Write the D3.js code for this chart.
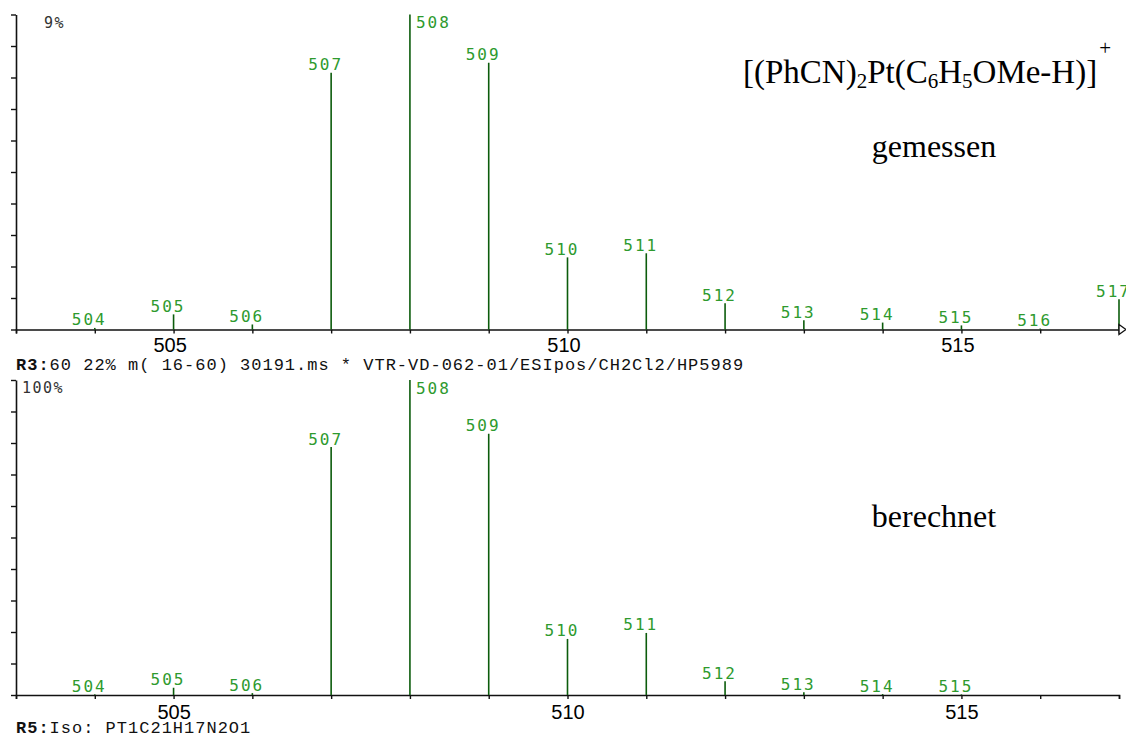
<!DOCTYPE html>
<html>
<head>
<meta charset="utf-8">
<script src="https://cdn.jsdelivr.net/npm/d3@7"></script>
<style>
  html, body { margin: 0; padding: 0; background: #fff; overflow: hidden; }
  svg { display: block; }
</style>
</head>
<body>
<svg id="chart" width="1126" height="737"></svg>
<script>
// m/z positions and relative intensities (% of base peak)
const massMeasured = [504, 505, 506, 507, 508, 509, 510, 511, 512, 513, 514, 515, 516, 517];
const intensityMeasured = [0.5, 4.8, 1.6, 81.5, 100, 84.7, 22.9, 24.2, 8.3, 2.9, 2.2, 1.3, 0.3, 9.6];

const massCalculated = [504, 505, 506, 507, 508, 509, 510, 511, 512, 513, 514, 515];
const intensityCalculated = [0.2, 2.3, 0.6, 78.7, 100, 82.9, 17.8, 19.7, 4.4, 0.9, 0.3, 0.2];

const xMajorTicks = [505, 510, 515];
const yTickValues = [0, 10, 20, 30, 40, 50, 60, 70, 80, 90, 100];

const svg = d3.select("#chart");

const x = d3.scaleLinear().domain([503, 517]).range([16, 1119]);

const peakColor = "#0c5c0c";
const labelColor = "#2e9a2e";
const axisColor = "#111";

function drawPanel(opts) {
  const y = d3.scaleLinear().domain([0, 100]).range([opts.bottom, opts.top]);
  const g = svg.append("g");

  // x axis: a tick at every nominal mass, numbers only at 505/510/515
  const xAxis = d3.axisBottom(x)
    .tickValues(d3.range(503, 518))
    .tickSize(4)
    .tickPadding(opts.xPad)
    .tickFormat(d => xMajorTicks.includes(d) ? String(d) : "");
  const gx = g.append("g")
    .attr("transform", `translate(0,${opts.bottom})`)
    .call(xAxis);
  gx.select(".domain").attr("stroke", axisColor).attr("stroke-width", 1.6);
  gx.selectAll(".tick line").attr("stroke", axisColor).attr("stroke-width", 1.4);
  gx.selectAll(".tick text")
    .attr("fill", "#000")
    .attr("font-family", "'Liberation Sans', Arial, sans-serif")
    .attr("font-size", 20)
    .attr("dx", opts.xLabelShift);

  // y axis: ten divisions, no numbers
  const yAxis = d3.axisLeft(y)
    .tickValues(yTickValues)
    .tickSize(5)
    .tickSizeOuter(0)
    .tickFormat("");
  const gy = g.append("g")
    .attr("transform", `translate(16,0)`)
    .call(yAxis);
  gy.select(".domain").attr("stroke", axisColor).attr("stroke-width", 1.6);
  gy.selectAll(".tick line").attr("stroke", axisColor).attr("stroke-width", 1.4);

  // full-scale label
  g.append("text")
    .attr("x", opts.scaleX)
    .attr("y", opts.top + 13)
    .attr("font-family", "'DejaVu Sans Mono', monospace")
    .attr("font-size", 15)
    .attr("letter-spacing", 1.5)
    .attr("fill", "#333")
    .text(opts.scaleLabel);

  const data = opts.mass.map((m, i) => ({ m, v: opts.values[i] }));

  // stick spectrum
  g.selectAll("line.peak")
    .data(data)
    .enter().append("line")
    .attr("class", "peak")
    .attr("x1", d => x(d.m))
    .attr("x2", d => x(d.m))
    .attr("y1", y(0))
    .attr("y2", d => y(d.v))
    .attr("stroke", peakColor)
    .attr("stroke-width", 1.6);

  // mass labels above each stick (beside the base peak)
  g.selectAll("text.peak-label")
    .data(data)
    .enter().append("text")
    .attr("class", "peak-label")
    .attr("x", d => d.v >= 100 ? x(d.m) + 6 : x(d.m) - 23)
    .attr("y", d => d.v >= 100 ? y(d.v) + 13.5 : y(d.v) - 2.5)
    .attr("font-family", "'DejaVu Sans Mono', monospace")
    .attr("font-size", 16)
    .attr("letter-spacing", 2)
    .attr("fill", labelColor)
    .text(d => d.m);

  return g;
}

const topPanel = drawPanel({
  top: 14.5, bottom: 329.5, xPad: 4, xLabelShift: -4,
  mass: massMeasured, values: intensityMeasured,
  scaleLabel: "9%", scaleX: 44
});

// open arrowhead at the end of the upper m/z axis
topPanel.append("path")
  .attr("d", `M${x(517)},${324.5} L${x(517) + 7},${329.5} L${x(517)},${334.5} Z`)
  .attr("fill", "#fff")
  .attr("stroke", axisColor)
  .attr("stroke-width", 1.4);

drawPanel({
  top: 380, bottom: 695, xPad: 6, xLabelShift: 0,
  mass: massCalculated, values: intensityCalculated,
  scaleLabel: "100%", scaleX: 22
});

// run header lines
function headerLine(yPos, bold, rest) {
  const t = svg.append("text")
    .attr("x", 16)
    .attr("y", yPos)
    .attr("font-family", "'Liberation Mono', 'Courier New', monospace")
    .attr("font-size", 17)
    .attr("letter-spacing", 1.0)
    .attr("fill", "#111");
  t.append("tspan").attr("font-weight", "bold").text(bold);
  t.append("tspan").text(rest);
}
headerLine(370, "R3:", "60 22% m( 16-60) 30191.ms * VTR-VD-062-01/ESIpos/CH2Cl2/HP5989");
headerLine(733, "R5:", "Iso: PT1C21H17N2O1");

// ion formula
const serif = "'Liberation Serif', 'Times New Roman', serif";
const formula = svg.append("text")
  .attr("x", 743)
  .attr("y", 83)
  .attr("font-family", serif)
  .attr("font-size", 33)
  .attr("fill", "#000");
const parts = [
  ["[(PhCN)", 0], ["2", 1], ["Pt(C", 0], ["6", 1], ["H", 0], ["5", 1],
  ["OMe-H)]", 0], ["+", 2]
];
let prevShift = 0;
parts.forEach(([txt, kind]) => {
  const shift = kind === 1 ? 5 : kind === 2 ? -28 : 0;
  formula.append("tspan")
    .attr("dy", shift - prevShift)
    .attr("dx", kind === 2 ? 2 : 0)
    .attr("font-size", kind === 0 ? 33 : 21)
    .attr("fill", "#000")
    .text(txt);
  prevShift = shift;
});

svg.append("text")
  .attr("x", 934).attr("y", 157)
  .attr("text-anchor", "middle")
  .attr("font-family", serif)
  .attr("font-size", 32)
  .text("gemessen");

svg.append("text")
  .attr("x", 934).attr("y", 527)
  .attr("text-anchor", "middle")
  .attr("font-family", serif)
  .attr("font-size", 32)
  .text("berechnet");
</script>
</body>
</html>
